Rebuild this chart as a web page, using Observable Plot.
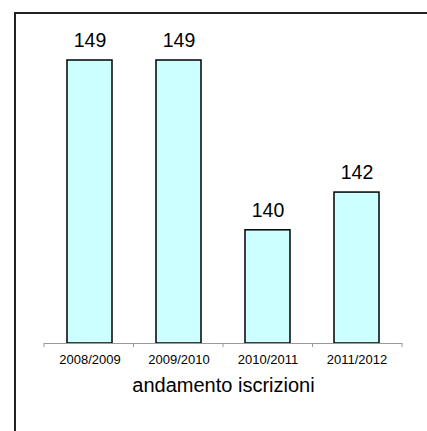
<!DOCTYPE html>
<html>
<head>
<meta charset="utf-8">
<script src="https://cdn.jsdelivr.net/npm/d3@7"></script>
<script src="https://cdn.jsdelivr.net/npm/@observablehq/plot@0.6"></script>
<style>
  html, body { margin: 0; padding: 0; background: #fff; }
  #wrap { position: relative; width: 427px; height: 431px; overflow: hidden; }
  #frame { position: absolute; left: 14px; top: 12px; width: 440px; height: 440px;
           border-left: 2px solid #222; border-top: 2px solid #222; box-sizing: border-box; pointer-events: none; }
  svg { display: block; }
</style>
</head>
<body>
<div id="wrap"><div id="frame"></div></div>
<script>
const years = ["2008/2009", "2009/2010", "2010/2011", "2011/2012"];
const values = [149, 149, 140, 142];
const yMin = 134;
const xTitle = "andamento iscrizioni";

const data = years.map((year, i) => ({year, value: values[i]}));
const font = "'Liberation Sans', Arial, sans-serif";

function boundaryTicks(index, scales, vals, dims) {
  const {width, height, marginLeft, marginRight, marginBottom} = dims;
  const n = years.length;
  const step = (width - marginLeft - marginRight) / n;
  const y0 = height - marginBottom;
  const g = d3.create("svg:g");
  for (let i = 0; i <= n; i++) {
    const x = marginLeft + i * step;
    g.append("line").attr("x1", x).attr("x2", x).attr("y1", y0).attr("y2", y0 + 4)
      .attr("stroke", "#999").attr("stroke-width", 1);
  }
  return g.node();
}

const chart = Plot.plot({
  width: 427,
  height: 431,
  marginLeft: 44,
  marginRight: 25,
  marginTop: 60,
  marginBottom: 88,
  style: {fontFamily: font, background: "transparent"},
  x: {domain: years, paddingInner: 0.5, paddingOuter: 0.25, axis: null},
  y: {domain: [yMin, 149], axis: null},
  marks: [
    Plot.barY(data, {x: "year", y1: () => yMin, y2: "value", fill: "#CCFFFF", stroke: "#000", strokeWidth: 1.5}),
    Plot.ruleY([yMin], {stroke: "#999", strokeWidth: 1}),
    boundaryTicks,
    Plot.text(data, {x: "year", y: "value", text: d => String(d.value), dy: -20, fontSize: 19.5, fill: "#000"}),
    Plot.text(years, {x: d => d, frameAnchor: "bottom", dy: 20, fontSize: 13, fill: "#000"}),
    Plot.text([xTitle], {frameAnchor: "bottom", dy: 48, fontSize: 20, fill: "#000"})
  ]
});
document.getElementById("wrap").prepend(chart);
</script>
</body>
</html>
